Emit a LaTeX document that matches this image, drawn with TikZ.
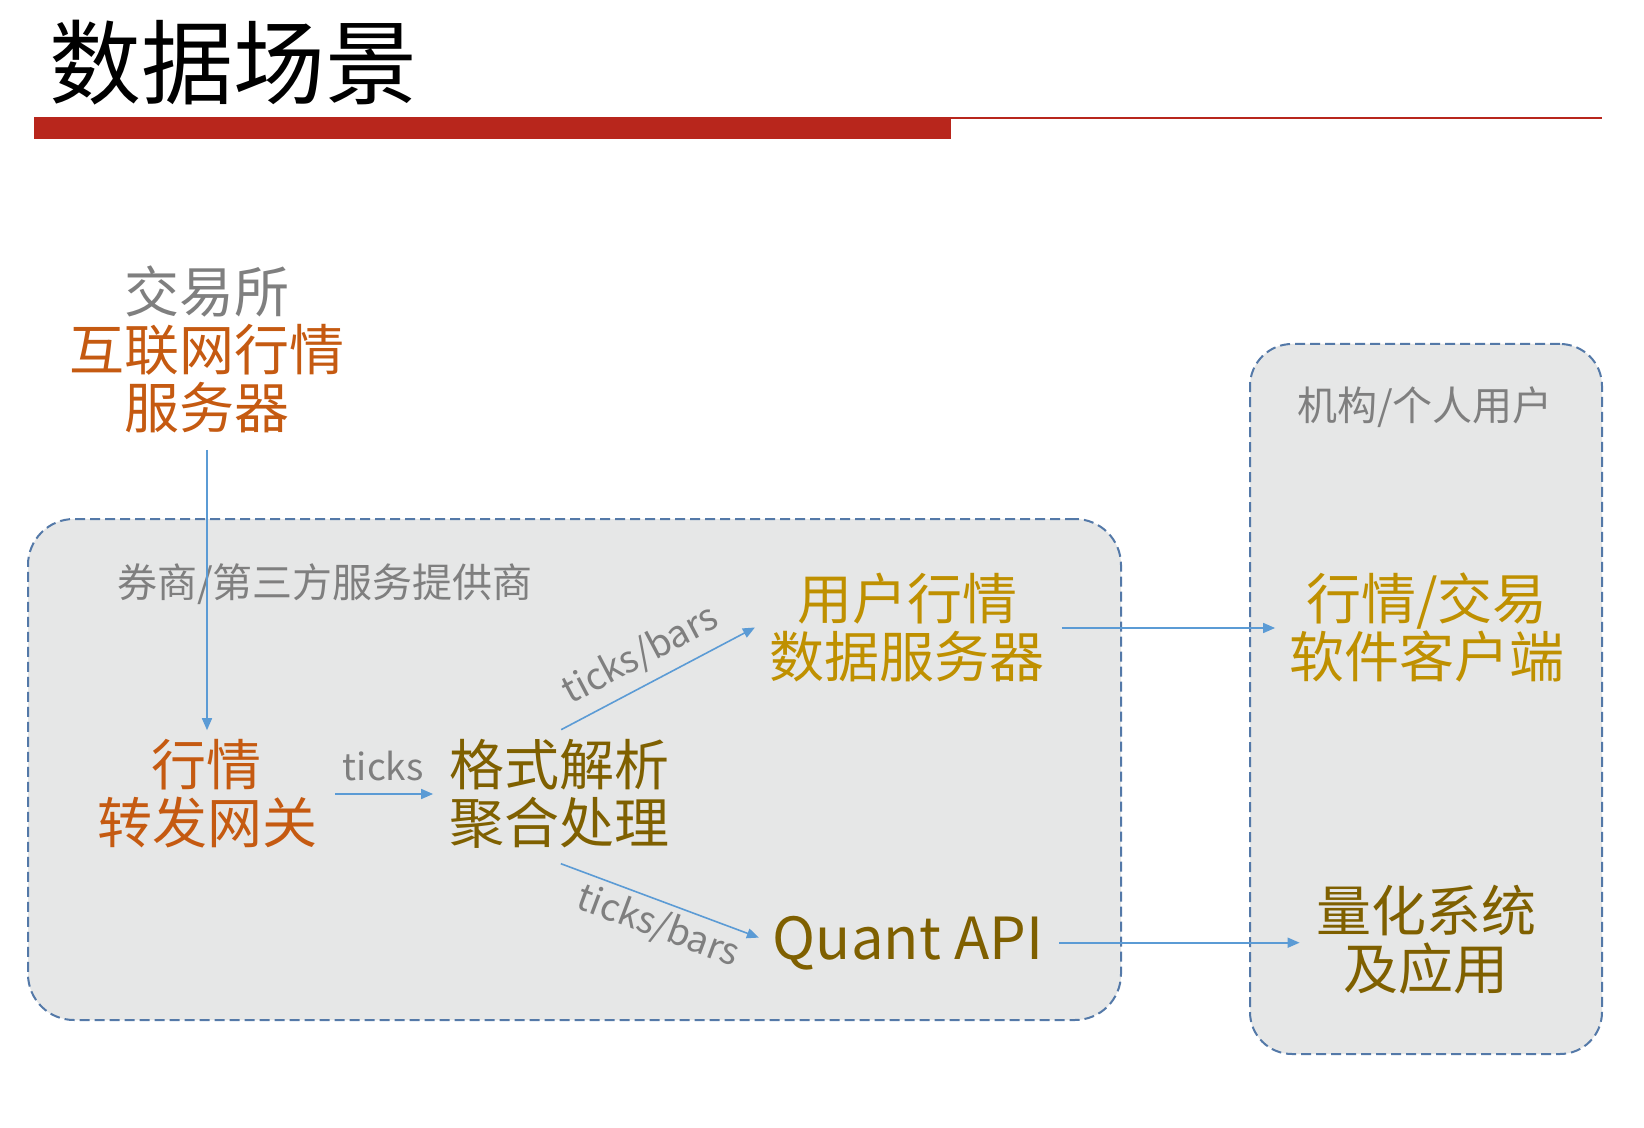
\documentclass[tikz,border=0pt]{standalone}
\usepackage{fontspec}
\setmainfont{Noto Sans CJK SC}
\usetikzlibrary{arrows.meta}
\definecolor{cgray}{HTML}{7F7F7F}
\definecolor{corange}{HTML}{C55A11}
\definecolor{cgold}{HTML}{BF9000}
\definecolor{colive}{HTML}{7F6000}
\definecolor{carrow}{HTML}{5B9BD5}
\definecolor{cbox}{HTML}{5479A8}
\definecolor{cfill}{HTML}{E6E7E7}
\definecolor{cred}{HTML}{B8261C}
\begin{document}
\begin{tikzpicture}[x=0.5pt,y=-0.5pt,
  big/.style={inner sep=0pt, align=center, font=\fontsize{27.5}{29}\selectfont},
  lbl/.style={inner sep=0pt, text=cgray, font=\fontsize{18.5}{21}\selectfont},
  arr/.style={draw=carrow, line width=0.8pt, -{Triangle[length=6pt,width=5pt]}},
  grp/.style={draw=cbox, line width=1pt, dash pattern=on 5pt off 2.5pt, fill=cfill, inner sep=0pt},
]
\useasboundingbox[fill=white] (0,0) rectangle (1644,1128);

% title
\node[inner sep=0pt, font=\fontsize{46}{50}\selectfont] (title) at (233,63) {数据场景};
\fill[cred] (34,117) rectangle (951,139);
\draw[cred, line width=1pt] (951,118) -- (1602,118);

% containers
\node[grp, rounded corners=23pt, minimum width=546.5pt, minimum height=250.5pt] (boxL) at (574.5,769.5) {};
\node[grp, rounded corners=21pt, minimum width=176pt, minimum height=355pt] (boxR) at (1426,699) {};

\node[inner sep=0pt, text=cgray, font=\fontsize{20}{22}\selectfont] (broker) at (325,584) {券商/第三方服务提供商};
\node[inner sep=0pt, text=cgray, font=\fontsize{20}{22}\selectfont] (inst) at (1425,407) {机构/个人用户};

% nodes
\node[big] (exch) at (207,349) {\textcolor{cgray}{交易所}\\\textcolor{corange}{互联网行情}\\\textcolor{corange}{服务器}};
\node[big, text=corange] (gw) at (207,794) {行情\\转发网关};
\node[big, text=colive] (proc) at (559.5,794) {格式解析\\聚合处理};
\node[big, text=cgold] (usr) at (907,628) {用户行情\\数据服务器};
\node[inner sep=0pt, anchor=base, text=colive, font=\fontsize{29}{33}\selectfont] (quant) at (908,959) {Quant API};
\node[big, text=cgold] (client) at (1427,628) {行情/交易\\软件客户端};
\node[big, text=colive] (qsys) at (1426,940) {量化系统\\及应用};

% connectors
\draw[arr, shorten <=8.5pt, shorten >=4.5pt] (exch.south) -- (gw.north);
\draw[arr, shorten <=9pt, shorten >=8pt] (gw.east) -- (proc.west)
  node[lbl, midway, above=6pt] {ticks};
\draw[arr, shorten <=10pt, shorten >=8pt] ([xshift=-8pt]proc.north) -- ([yshift=4pt]usr.west)
  node[lbl, pos=0.49, sloped, above=5pt] {ticks/bars};
\draw[arr, shorten <=21pt, shorten >=7.3pt] ([xshift=-19pt]proc.south) -- (quant.west)
  node[lbl, pos=0.58, sloped, below=3pt] {ticks/bars};
\draw[arr, shorten <=8.5pt, shorten >=7pt] (usr.east) -- (client.west);
\draw[arr, shorten <=8pt, shorten >=8pt] (quant.east) -- (quant.east -| qsys.west);
\end{tikzpicture}
\end{document}
